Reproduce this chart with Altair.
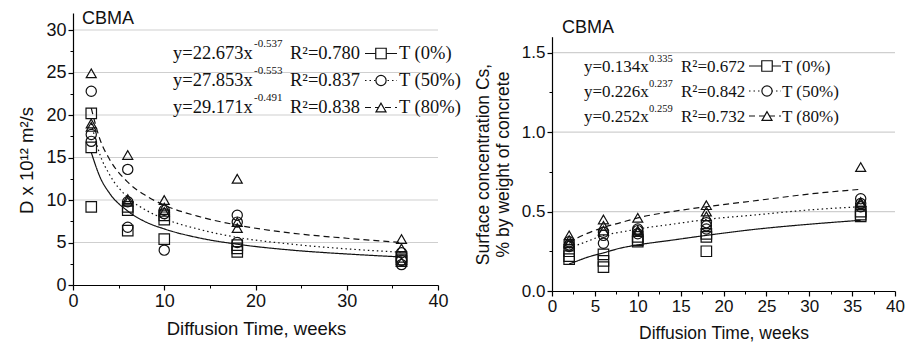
import altair as alt
import pandas as pd

# ---------------- data ----------------
series = ["T (0%)", "T (50%)", "T (80%)"]
weeks = [2, 6, 10, 18, 36]
sample_weeks = [2, 2, 2, 6, 6, 6, 10, 10, 10, 18, 18, 18, 36, 36, 36]

# Left panel: D x 10^12 m2/s
D_T0 = [20.2, 16.2, 9.2, 9.2, 8.8, 6.4, 8.2, 7.7, 5.4, 4.7, 4.3, 3.9, 3.3, 3.0, 2.8]
D_T50 = [22.8, 17.7, 16.9, 13.6, 9.8, 6.8, 8.8, 8.4, 4.1, 8.2, 7.4, 5.0, 3.8, 2.9, 2.4]
D_T80 = [24.9, 19.0, 18.6, 15.3, 10.1, 9.8, 10.0, 9.1, 8.6, 12.5, 7.4, 6.7, 5.4, 4.3, 2.7]

# Right panel: surface concentration Cs
Cs_T0 = [0.25, 0.22, 0.20, 0.23, 0.19, 0.15, 0.34, 0.32, 0.31, 0.36, 0.34, 0.25, 0.50, 0.48, 0.47]
Cs_T50 = [0.31, 0.29, 0.28, 0.37, 0.35, 0.30, 0.39, 0.38, 0.36, 0.43, 0.41, 0.39, 0.58, 0.55, 0.53]
Cs_T80 = [0.35, 0.32, 0.30, 0.45, 0.41, 0.38, 0.46, 0.38, 0.37, 0.54, 0.50, 0.47, 0.78, 0.56, 0.55]

# fitted curves
fit_weeks = [2, 3, 4, 6, 8, 10, 14, 18, 24, 30, 36]
D_fit_T0 = [15.6, 12.6, 10.8, 8.7, 7.4, 6.6, 5.5, 4.8, 4.1, 3.65, 3.3]
D_fit_T50 = [19.0, 15.2, 13.0, 10.3, 8.8, 7.8, 6.5, 5.6, 4.8, 4.25, 3.85]
D_fit_T80 = [20.8, 17.0, 14.8, 12.1, 10.5, 9.4, 8.0, 7.05, 6.1, 5.5, 5.0]
Cs_fit_T0 = [0.17, 0.19, 0.21, 0.24, 0.27, 0.29, 0.32, 0.35, 0.39, 0.42, 0.445]
Cs_fit_T50 = [0.27, 0.29, 0.31, 0.35, 0.37, 0.39, 0.42, 0.45, 0.48, 0.51, 0.53]
Cs_fit_T80 = [0.30, 0.335, 0.36, 0.40, 0.43, 0.46, 0.50, 0.53, 0.57, 0.61, 0.64]

# equation labels
D_eq = ["y=22.673x", "y=27.853x", "y=29.171x"]
D_exp = ["-0.537", "-0.553", "-0.491"]
D_r2 = ["R\u00b2=0.780", "R\u00b2=0.837", "R\u00b2=0.838"]
Cs_eq = ["y=0.134x", "y=0.226x", "y=0.252x"]
Cs_exp = ["0.335", "0.237", "0.259"]
Cs_r2 = ["R\u00b2=0.672", "R\u00b2=0.842", "R\u00b2=0.732"]

D_grid = [5, 10, 15, 20, 25, 30]
D_major = [0, 5, 10, 15, 20, 25, 30]
D_minor = [2.5, 7.5, 12.5, 17.5, 22.5, 27.5]
DX_major = [0, 10, 20, 30, 40]
DX_minor = [5, 15, 25, 35]
Cs_grid = [0.5, 1.0, 1.5]
Cs_major = [0.0, 0.5, 1.0, 1.5]
Cs_minor = [0.25, 0.75, 1.25]
CX_major = [0, 5, 10, 15, 20, 25, 30, 35, 40]
CX_minor = [2.5, 7.5, 12.5, 17.5, 22.5, 27.5, 32.5, 37.5]


def pts_df(vals_list):
    rows = []
    for s, vals in zip(series, vals_list):
        for w, v in zip(sample_weeks, vals):
            rows.append({"week": w, "value": v, "series": s})
    return pd.DataFrame(rows)


def fit_df(vals_list):
    rows = []
    for s, vals in zip(series, vals_list):
        for w, v in zip(fit_weeks, vals):
            rows.append({"week": w, "value": v, "series": s})
    return pd.DataFrame(rows)


def leg_df(eq, ex, r2):
    return pd.DataFrame({"i": [0, 1, 2], "eq": eq, "ex": ex, "r2": r2, "series": series})


dfD = pts_df([D_T0, D_T50, D_T80])
dfC = pts_df([Cs_T0, Cs_T50, Cs_T80])
fD = fit_df([D_fit_T0, D_fit_T50, D_fit_T80])
fC = fit_df([Cs_fit_T0, Cs_fit_T50, Cs_fit_T80])
lD = leg_df(D_eq, D_exp, D_r2)
lC = leg_df(Cs_eq, Cs_exp, Cs_r2)

INK = "#111111"
SANS = "Liberation Sans"
SERIF = "Liberation Serif"

# layout: group origin sits PAD_TOP px below the svg top (page y = 8 + PAD_TOP)
PAD_TOP = 4
H = 337 - PAD_TOP


def Y(page_y):
    """convert a page y coordinate into plot-group coordinates"""
    return page_y - 8 - PAD_TOP


shape_scale = alt.Scale(domain=series, range=["square", "circle", "triangle-up"])
size_scale = alt.Scale(domain=series, range=[110, 100, 140])
dash_scale = alt.Scale(domain=series, range=[[1, 0], [1.5, 3], [6, 4]])

xL = alt.Scale(domain=[0, 40], range=[65, 430], nice=False, zero=False)
yL = alt.Scale(domain=[0, 32], range=[Y(285), Y(13)], nice=False, zero=False)
xR = alt.Scale(domain=[0, 40], range=[544, 887], nice=False, zero=False)
yR = alt.Scale(domain=[0, 1.6], range=[Y(291), Y(36.7)], nice=False, zero=False)


def major_axis(orient, offset, values, fmt, lsize, title, tx, ty, tsize, angle):
    return alt.Axis(orient=orient, offset=offset, values=values, format=fmt,
                    grid=False, domain=True, domainColor="#000", domainWidth=1.2,
                    ticks=True, tickColor="#000", tickSize=5, tickWidth=1.2,
                    labelFont=SANS, labelFontSize=lsize, labelColor=INK,
                    labelPadding=2, labelFlush=False, labelOverlap=False,
                    title=title, titleFont=SANS, titleFontSize=tsize,
                    titleFontWeight="normal", titleColor=INK, titleX=tx, titleY=ty,
                    titleAlign="center", titleBaseline="middle", titleAngle=angle,
                    titleLineHeight=20, zindex=1)


def minor_axis(orient, offset, values):
    return alt.Axis(orient=orient, offset=offset, values=values, labels=False,
                    domain=False, grid=False, ticks=True, tickSize=3,
                    tickColor="#000", tickWidth=1, title=None, zindex=1)


def panel(df_pts, df_fit, df_leg, grid_vals, xs, ys, yax, yminor, xax, xminor,
          grid_x, leg_x, leg_rows, font_sz, exp_sz, cbma):
    grid = alt.Chart(pd.DataFrame({"v": grid_vals})).mark_rule(
        color="#cfcfcf", strokeWidth=1.2).encode(
        y=alt.Y("v:Q", scale=ys, axis=yax),
        x=alt.value(grid_x[0]), x2=alt.value(grid_x[1]))
    fit = alt.Chart(df_fit).mark_line(color=INK, strokeWidth=1.2,
                                      interpolate="monotone").encode(
        x=alt.X("week:Q", scale=xs, axis=xminor),
        y=alt.Y("value:Q", scale=ys, axis=None),
        strokeDash=alt.StrokeDash("series:N", scale=dash_scale, legend=None),
        detail="series:N")
    pts = alt.Chart(df_pts).mark_point(filled=False, color=INK,
                                       strokeWidth=1.2, opacity=1).encode(
        x=alt.X("week:Q", scale=xs, axis=xax),
        y=alt.Y("value:Q", scale=ys, axis=yminor),
        shape=alt.Shape("series:N", scale=shape_scale, legend=None),
        size=alt.Size("series:N", scale=size_scale, legend=None))

    base_s = alt.Scale(domain=[0, 2], range=leg_rows["base"], nice=False, zero=False)
    exp_s = alt.Scale(domain=[0, 2], range=leg_rows["exp"], nice=False, zero=False)
    mid_s = alt.Scale(domain=[0, 2], range=leg_rows["mid"], nice=False, zero=False)

    t_eq = alt.Chart(df_leg).mark_text(font=SERIF, fontSize=font_sz, color=INK,
                                       align="left", baseline="alphabetic").encode(
        x=alt.value(leg_x["eq"]), y=alt.Y("i:Q", scale=base_s, axis=None), text="eq:N")
    t_ex = alt.Chart(df_leg).mark_text(font=SERIF, fontSize=exp_sz, color=INK,
                                       align="left", baseline="alphabetic").encode(
        x=alt.value(leg_x["exp"]), y=alt.Y("i:Q", scale=exp_s, axis=None), text="ex:N")
    t_r2 = alt.Chart(df_leg).mark_text(font=SERIF, fontSize=font_sz, color=INK,
                                       align="left", baseline="alphabetic").encode(
        x=alt.value(leg_x["r2"]), y=alt.Y("i:Q", scale=base_s, axis=None), text="r2:N")
    t_lab = alt.Chart(df_leg).mark_text(font=SERIF, fontSize=font_sz, color=INK,
                                        align="left", baseline="alphabetic").encode(
        x=alt.value(leg_x["lab"]), y=alt.Y("i:Q", scale=base_s, axis=None), text="series:N")
    l_rule = alt.Chart(df_leg).mark_rule(color=INK, strokeWidth=1.2).encode(
        x=alt.value(leg_x["line"][0]), x2=alt.value(leg_x["line"][1]),
        y=alt.Y("i:Q", scale=mid_s, axis=None),
        strokeDash=alt.StrokeDash("series:N", scale=dash_scale, legend=None))
    l_pt = alt.Chart(df_leg).mark_point(filled=True, fill="white", stroke=INK,
                                        strokeWidth=1.2, opacity=1,
                                        fillOpacity=1, strokeOpacity=1).encode(
        x=alt.value(leg_x["mark"]), y=alt.Y("i:Q", scale=mid_s, axis=None),
        shape=alt.Shape("series:N", scale=shape_scale, legend=None),
        size=alt.Size("series:N", scale=size_scale, legend=None))
    title = alt.Chart(pd.DataFrame({"t": ["CBMA"]})).mark_text(
        font=SANS, fontSize=18, color=INK, align="left", baseline="middle").encode(
        x=alt.value(cbma[0]), y=alt.value(cbma[1]), text="t:N")
    return [grid, fit, pts, l_rule, l_pt, t_eq, t_ex, t_r2, t_lab, title]


left = panel(
    dfD, fD, lD, D_grid, xL, yL,
    major_axis("left", -65, D_major, "d", 18, "D x 10\u00b9\u00b2 m\u00b2/s", -47, Y(160), 18.5, 270),
    minor_axis("left", -65, D_minor),
    major_axis("bottom", Y(285) - H, DX_major, "d", 18, "Diffusion Time, weeks", 248, 43, 18.5, 0),
    minor_axis("bottom", Y(285) - H, DX_minor),
    (66, 430),
    {"eq": 165, "exp": 246, "r2": 282, "line": (357, 389), "mark": 373, "lab": 391},
    {"base": [Y(59), Y(113)], "exp": [Y(47), Y(101)], "mid": [Y(53.5), Y(107.5)]},
    18.5, 11, (74, Y(18.5)))

right = panel(
    dfC, fC, lC, Cs_grid, xR, yR,
    major_axis("left", -544, Cs_major, ".1f", 17, ["Surface concentration Cs,", "% by weight of concrete"],
               -69, Y(164), 17.5, 270),
    minor_axis("left", -544, Cs_minor),
    major_axis("bottom", Y(291) - H, CX_major, "d", 17, "Diffusion Time, weeks", 715.5, 42, 17.5, 0),
    minor_axis("bottom", Y(291) - H, CX_minor),
    (545, 887),
    {"eq": 576, "exp": 641, "r2": 673, "line": (741, 773), "mark": 759, "lab": 774},
    {"base": [Y(72), Y(122)], "exp": [Y(62), Y(112)], "mid": [Y(66), Y(116)]},
    17, 10.5, (554, Y(28)))

chart = alt.layer(*(left + right)).resolve_scale(
    x="independent", y="independent"
).properties(
    width=900, height=H,
    padding={"left": 0, "top": PAD_TOP, "right": 0, "bottom": 0},
    autosize=alt.AutoSizeParams(type="none"),
    background="white",
).configure_view(stroke=None)

chart.save("out.html", embed_options={"renderer": "svg", "actions": False})
